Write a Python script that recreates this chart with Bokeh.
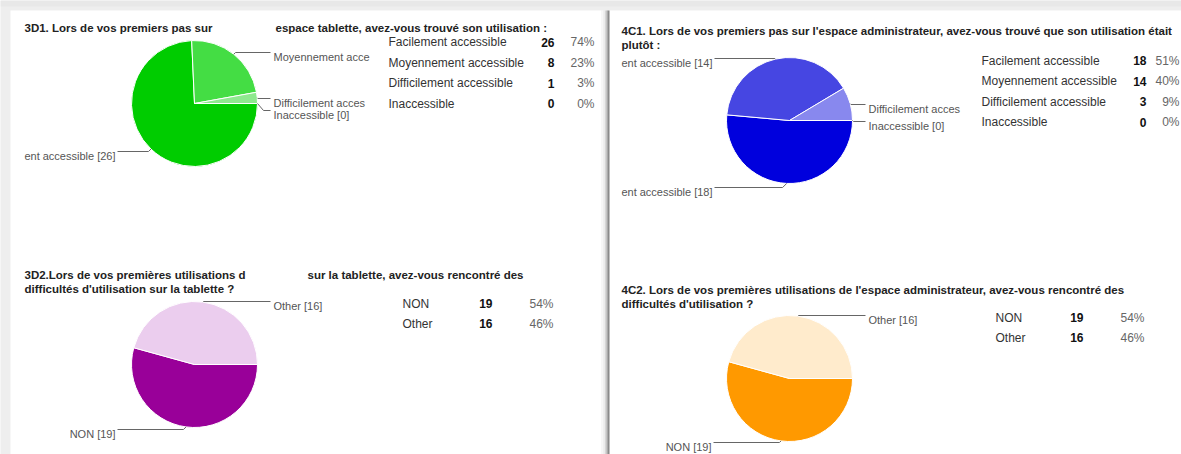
import math
from bokeh.plotting import figure
from bokeh.models import Range1d, ColumnDataSource
from bokeh.core.properties import value
from bokeh.embed import file_html
from bokeh.resources import INLINE

# ---------------- data ----------------
q3d1_title = ["3D1. Lors de vos premiers pas sur",
              "espace tablette, avez-vous trouvé son utilisation :"]
q3d1_categories = ["Facilement accessible", "Moyennement accessible",
                   "Difficilement accessible", "Inaccessible"]
q3d1_counts = [26, 8, 1, 0]

q4c1_title = ["4C1. Lors de vos premiers pas sur l'espace administrateur, avez-vous trouvé que son utilisation était",
              "plutôt :"]
q4c1_categories = ["Facilement accessible", "Moyennement accessible",
                   "Difficilement accessible", "Inaccessible"]
q4c1_counts = [18, 14, 3, 0]

q3d2_title = ["3D2.Lors de vos premières utilisations d",
              "sur la tablette, avez-vous rencontré des",
              "difficultés d'utilisation sur la tablette ?"]
q3d2_categories = ["NON", "Other"]
q3d2_counts = [19, 16]

q4c2_title = ["4C2. Lors de vos premières utilisations de l'espace administrateur, avez-vous rencontré des",
              "difficultés d'utilisation ?"]
q4c2_categories = ["NON", "Other"]
q4c2_counts = [19, 16]

# ---------------- styles / layout ----------------
FONT = value("Liberation Sans")
WIDTH, H = 1181, 454


def Y(v):
    return H - v


panels = [
    dict(title=q3d1_title, cats=q3d1_categories, counts=q3d1_counts,
         colors=["#00cc00", "#44dd44", "#8ee98e", "#ccf5cc"],
         title_pos=[(24, 27), (275, 27)],
         cx=194, cy=103, r=63,
         sides=["L", "R", "R", "R"], label_y=[151, 52, 98, 110],
         left_anchor=115, right_anchor=273, clip=(24, 364),
         table=dict(lx=388, cx=554, px=594, y0=41.7, dy=20.5)),
    dict(title=q4c1_title, cats=q4c1_categories, counts=q4c1_counts,
         colors=["#0000dd", "#4646e2", "#8888ee", "#ccccf8"],
         title_pos=[(621, 30.5), (621, 44.5)],
         cx=789, cy=120, r=63,
         sides=["L", "L", "R", "R"], label_y=[187, 58, 104, 121],
         left_anchor=712, right_anchor=868, clip=(621, 958),
         table=dict(lx=981, cx=1146, px=1179, y0=60, dy=20.5)),
    dict(title=q3d2_title, cats=q3d2_categories, counts=q3d2_counts,
         colors=["#990099", "#ebcdee"],
         title_pos=[(24, 274), (307, 274), (24, 288)],
         cx=194, cy=364, r=63,
         sides=["L", "R"], label_y=[429, 301],
         left_anchor=115, right_anchor=273, clip=(0, 2000),
         table=dict(lx=402, cx=492, px=553, y0=303, dy=20)),
    dict(title=q4c2_title, cats=q4c2_categories, counts=q4c2_counts,
         colors=["#ff9900", "#ffebcc"],
         title_pos=[(621, 289), (621, 303)],
         cx=789, cy=378, r=63,
         sides=["L", "R"], label_y=[442, 315],
         left_anchor=711, right_anchor=868, clip=(0, 2000),
         table=dict(lx=995, cx=1083, px=1144, y0=317, dy=20)),
]

# Arial / Liberation Sans advance widths (per 1000 em)
W = {' ': 278, '[': 278, ']': 278, 'a': 556, 'b': 556, 'c': 500, 'd': 556,
     'e': 556, 'f': 278, 'i': 222, 'l': 222, 'm': 833, 'n': 556, 'o': 556,
     'r': 333, 's': 500, 't': 278, 'y': 500, 'h': 556, 'F': 611, 'M': 833,
     'D': 722, 'I': 278, 'N': 722, 'O': 778}


def cw(ch, size):
    return W.get(ch, 556) * size / 1000.0


def fit(text, side, anchor, clip, size=11):
    """Emulate the clipping of the chart area on pie labels."""
    out = ""
    x = anchor
    if side == "R":
        for ch in text:
            if x >= clip[1]:
                break
            out += ch
            x += cw(ch, size)
        return out.rstrip()
    for ch in reversed(text):
        if x <= clip[0]:
            break
        out = ch + out
        x -= cw(ch, size)
    return out.lstrip()


p = figure(width=WIDTH, height=H, x_range=Range1d(0, WIDTH), y_range=Range1d(0, H),
           output_backend="svg", toolbar_location=None, min_border=0,
           background_fill_color="#eeeeee", border_fill_color="#eeeeee",
           outline_line_color=None)
p.axis.visible = False
p.grid.visible = False

# page panels
p.quad(left=[0], right=[WIDTH], top=[H], bottom=[Y(6)], fill_color="#e8e8e8", line_color=None)
p.quad(left=[10], right=[601], top=[Y(10)], bottom=[0], fill_color="white", line_color=None)
p.quad(left=[609], right=[WIDTH], top=[Y(10)], bottom=[0], fill_color="white", line_color=None)
sep = [(601, 603, "#f7f7f7"), (603, 604.5, "#ececec"), (604.5, 606, "#d6d6d6"),
       (606, 607, "#a8a8a8"), (607, 609, "#8a8a8a")]
p.quad(left=[s[0] for s in sep], right=[s[1] for s in sep],
       top=[Y(10)] * len(sep), bottom=[0] * len(sep),
       fill_color=[s[2] for s in sep], line_color=None)

for pn in panels:
    counts = pn["counts"]
    total = float(sum(counts))
    cx, cy, r = pn["cx"], pn["cy"], pn["r"]

    # wedges (clockwise from 3 o'clock)
    starts, ends, cols = [], [], []
    mids = []
    acc = 0.0
    for c, col in zip(counts, pn["colors"]):
        a0 = acc / total * 2 * math.pi
        acc += c
        a1 = acc / total * 2 * math.pi
        mids.append((a0 + a1) / 2)
        if c > 0:
            starts.append(-a0)
            ends.append(-a1)
            cols.append(col)
    src = ColumnDataSource(dict(x=[cx] * len(starts), y=[Y(cy)] * len(starts),
                                start=starts, end=ends, color=cols))
    p.wedge(x="x", y="y", radius=r, radius_units="screen", start_angle="start",
            end_angle="end", direction="clock", fill_color="color",
            line_color="white", line_width=1, source=src)

    # leader lines and labels
    xs, ys = [], []
    lt_x, lt_y, lt_t, lt_al = [], [], [], []
    for cat, c, side, ly, m in zip(pn["cats"], counts, pn["sides"], pn["label_y"], mids):
        px = cx + r * math.cos(m)
        py = cy + r * math.sin(m)
        sgn = 1 if side == "R" else -1
        dy = abs(ly - py)
        bx = px + sgn * min(dy, 6)
        if side == "R":
            ex = pn["right_anchor"] - 3
            tx = pn["right_anchor"]
        else:
            ex = pn["left_anchor"] + 2
            tx = pn["left_anchor"]
        xs.append([px, bx, ex])
        ys.append([Y(py), Y(ly), Y(ly)])
        label = f"{cat} [{c}]"
        lt_x.append(tx)
        lt_y.append(Y(ly + 4))
        lt_t.append(fit(label, side, tx, pn["clip"]))
        lt_al.append("left" if side == "R" else "right")
    p.multi_line(xs=xs, ys=ys, line_color="#666666", line_width=1)
    p.text(x=lt_x, y=lt_y, text=lt_t, text_align=lt_al, text_baseline="alphabetic",
           text_font=FONT, text_font_size="11px", text_color="#555555")

    # title
    p.text(x=[t[0] for t in pn["title_pos"]], y=[Y(t[1]) for t in pn["title_pos"]],
           text=pn["title"], text_align="left", text_baseline="alphabetic",
           text_font=FONT, text_font_size="11.5px", text_font_style="bold",
           text_color="#222222")

    # summary table
    tb = pn["table"]
    rows_y = [Y(tb["y0"] + i * tb["dy"]) for i in range(len(counts))]
    pcts = [f"{round(100 * c / total)}%" for c in counts]
    p.text(x=[tb["lx"]] * len(counts), y=rows_y, text=pn["cats"], text_align="left",
           text_baseline="alphabetic", text_font=FONT, text_font_size="12px",
           text_color="#333333")
    p.text(x=[tb["cx"]] * len(counts), y=rows_y, text=[str(c) for c in counts],
           text_align="right", text_baseline="alphabetic", text_font=FONT,
           text_font_size="12px", text_font_style="bold", text_color="#111111")
    p.text(x=[tb["px"]] * len(counts), y=rows_y, text=pcts, text_align="right",
           text_baseline="alphabetic", text_font=FONT, text_font_size="12px",
           text_color="#666666")

open("out.html", "w").write(file_html(p, INLINE))
